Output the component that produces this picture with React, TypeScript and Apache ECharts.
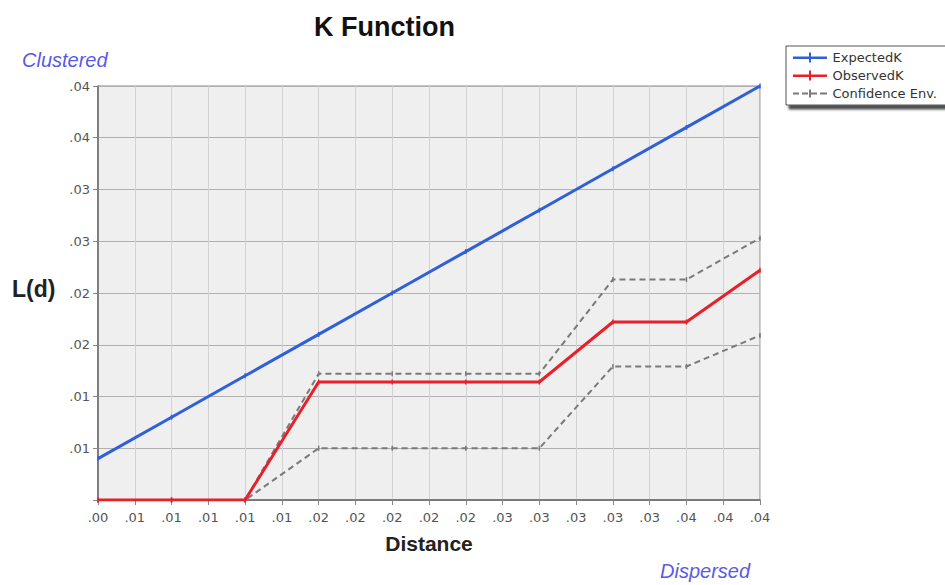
import React, { useEffect, useRef } from "react";
import * as echarts from "echarts";

const distances = [0.004, 0.008, 0.012, 0.016, 0.02, 0.024, 0.028, 0.032, 0.036, 0.04];
const expectedK = [0.004, 0.008, 0.012, 0.016, 0.02, 0.024, 0.028, 0.032, 0.036, 0.04];
const observedK = [0, 0, 0, 0.0114, 0.0114, 0.0114, 0.0114, 0.0172, 0.0172, 0.0222];
const upperEnv = [0, 0, 0, 0.0122, 0.0122, 0.0122, 0.0122, 0.0213, 0.0213, 0.0253];
const lowerEnv = [0, 0, 0, 0.005, 0.005, 0.005, 0.005, 0.0129, 0.0129, 0.0159];

const legendNames = ["ExpectedK", "ObservedK", "Confidence Env."];

const fmt = (v: number) => {
  const r = Math.round(Math.round(v * 1000) / 10) / 100;
  return r.toFixed(2).replace(/^0/, "");
};

const pair = (ys: number[]) => distances.map((d, i) => [d, ys[i]]);

const solidIcon = "path://M0,4h34v2.4h-34z M16,0h2v10h-2z";
const dashIcon = "path://M0,4h6v2h-6z M9,4h6v2h-6z M18,4h6v2h-6z M27,4h7v2h-7z M16,1h2v8h-2z M0,0h0.01v10h-0.01z";

export default function App() {
  const ref = useRef<HTMLDivElement>(null);
  useEffect(() => {
    if (!ref.current) return;
    const chart = echarts.init(ref.current, null, { renderer: "svg" });
    const mark = { symbol: "rect", symbolSize: [1.5, 5], showSymbol: true };
    chart.setOption({
      animation: false,
      backgroundColor: "#ffffff",
      title: {
        text: "K Function",
        left: 309,
        top: 8,
        textStyle: { fontFamily: "Liberation Sans", fontWeight: "bold", fontSize: 27, color: "#111" },
      },
      legend: {
        orient: "vertical",
        left: 786,
        top: 46,
        padding: [5, 14, 5, 7],
        itemWidth: 35,
        itemHeight: 10,
        itemGap: 5,
        backgroundColor: "#ffffff",
        borderColor: "#555",
        borderWidth: 1,
        shadowColor: "rgba(0,0,0,0.7)",
        shadowBlur: 2,
        shadowOffsetX: 3,
        shadowOffsetY: 4,
        itemStyle: { borderWidth: 0 },
        textStyle: { fontFamily: "DejaVu Sans", fontSize: 13, color: "#333" },
        data: [
          { name: legendNames[0], icon: solidIcon },
          { name: legendNames[1], icon: solidIcon },
          { name: legendNames[2], icon: dashIcon },
        ],
      },
      grid: {
        left: 98,
        right: 185,
        top: 86,
        bottom: 85,
        show: true,
        backgroundColor: "#efefef",
        borderColor: "#888",
        borderWidth: 1,
      },
      xAxis: {
        type: "value",
        min: 0.004,
        max: 0.04,
        interval: 0.002,
        name: "Distance",
        nameLocation: "middle",
        nameGap: 33,
        nameTextStyle: { fontFamily: "Liberation Sans", fontWeight: "bold", fontSize: 21, color: "#222" },
        axisLine: { show: true, lineStyle: { color: "#666", width: 1.5 } },
        axisTick: { show: true, length: 5, lineStyle: { color: "#888" } },
        axisLabel: { formatter: fmt, margin: 11, fontFamily: "DejaVu Sans", fontSize: 13, color: "#555" },
        splitLine: { show: true, lineStyle: { color: "#d2d2d2", width: 1 } },
      },
      yAxis: {
        type: "value",
        min: 0,
        max: 0.04,
        interval: 0.005,
        axisLine: { show: true, lineStyle: { color: "#666", width: 1.5 } },
        axisTick: { show: true, length: 5, lineStyle: { color: "#888" } },
        axisLabel: {
          formatter: (v: number) => (v === 0 ? "" : fmt(v)),
          margin: 8,
          fontFamily: "DejaVu Sans",
          fontSize: 13,
          color: "#555",
        },
        splitLine: { show: true, lineStyle: { color: "#b0b0b0", width: 1 } },
      },
      graphic: [
        {
          type: "text",
          left: 22,
          top: 50,
          style: { text: "Clustered", fontFamily: "Liberation Sans", fontStyle: "italic", fontSize: 20, fill: "#5a5ae6" },
        },
        {
          type: "text",
          left: 660,
          top: 561,
          style: { text: "Dispersed", fontFamily: "Liberation Sans", fontStyle: "italic", fontSize: 20, fill: "#5a5ae6" },
        },
        {
          type: "text",
          left: 12,
          top: 277,
          style: { text: "L(d)", fontFamily: "Liberation Sans", fontWeight: "bold", fontSize: 23, fill: "#222" },
        },
      ],
      series: [
        {
          name: legendNames[2],
          type: "line",
          data: pair(upperEnv),
          ...mark,
          itemStyle: { color: "#7a7a7a" },
          lineStyle: { color: "#7a7a7a", width: 2, type: [6, 4] },
          z: 2,
        },
        {
          name: legendNames[2],
          type: "line",
          data: pair(lowerEnv),
          ...mark,
          itemStyle: { color: "#7a7a7a" },
          lineStyle: { color: "#7a7a7a", width: 2, type: [6, 4] },
          z: 2,
        },
        {
          name: legendNames[1],
          type: "line",
          data: pair(observedK),
          ...mark,
          itemStyle: { color: "#e8202a" },
          lineStyle: { color: "#e8202a", width: 3 },
          z: 3,
        },
        {
          name: legendNames[0],
          type: "line",
          data: pair(expectedK),
          ...mark,
          itemStyle: { color: "#3060d8" },
          lineStyle: { color: "#3060d8", width: 3 },
          z: 4,
        },
      ],
    });
    return () => chart.dispose();
  }, []);
  return (
    <div
      ref={ref}
      style={{ position: "absolute", left: 0, top: 0, width: 945, height: 585 }}
    />
  );
}
